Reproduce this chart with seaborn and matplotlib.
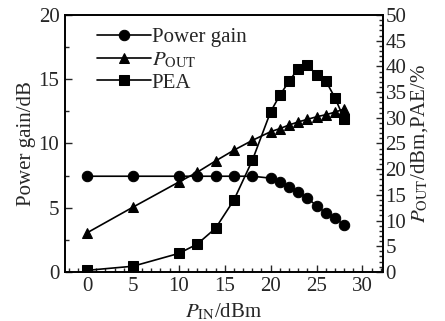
import matplotlib

matplotlib.use("Agg")
import matplotlib.pyplot as plt
import pandas as pd
import seaborn as sns
from matplotlib.ticker import MultipleLocator

# values
pin_dbm = [0, 5, 10, 12, 14, 16, 18, 20, 21, 22, 23, 24, 25, 26, 27, 28]
power_gain = [7.45, 7.45, 7.45, 7.45, 7.45, 7.45, 7.45, 7.3, 7.0, 6.65, 6.25,
              5.75, 5.15, 4.6, 4.2, 3.65]
pout = [7.6, 12.6, 17.5, 19.4, 21.6, 23.7, 25.6, 27.3, 27.9, 28.6, 29.2,
        29.7, 30.2, 30.6, 31.1, 31.7]
pea = [0.3, 1.1, 3.6, 5.4, 8.5, 14.0, 21.7, 31.2, 34.4, 37.1, 39.6, 40.3,
       38.3, 37.2, 33.9, 29.8]

sns.set_theme(style="ticks")
plt.rcParams["font.family"] = ["Liberation Serif", "DejaVu Serif"]
plt.rcParams["mathtext.fontset"] = "stix"
plt.rcParams["font.size"] = 15

df = pd.DataFrame({"pin": pin_dbm, "gain": power_gain, "pout": pout, "pea": pea})

fig = plt.figure(figsize=(4.45, 3.21), dpi=100)
ax = fig.add_axes([0.146, 0.153, 0.714, 0.800])
ax2 = ax.twinx()

line_kw = dict(color="black", lw=1.2, markeredgecolor="black", legend=False)
sns.lineplot(data=df, x="pin", y="gain", marker="o", markersize=7.5, ax=ax, **line_kw)
sns.lineplot(data=df, x="pin", y="pout", marker="^", markersize=7.5, ax=ax2, **line_kw)
sns.lineplot(data=df, x="pin", y="pea", marker="s", markersize=6.5, ax=ax2, **line_kw)

ax.set_xlim(-2.4, 32.2)
ax.set_ylim(0, 20)
ax2.set_ylim(0, 50)

ax.xaxis.set_major_locator(MultipleLocator(5))
ax.xaxis.set_minor_locator(MultipleLocator(1))
ax.yaxis.set_major_locator(MultipleLocator(5))
ax.yaxis.set_minor_locator(MultipleLocator(2.5))
ax2.yaxis.set_major_locator(MultipleLocator(5))
ax2.yaxis.set_minor_locator(MultipleLocator(1))

ax.tick_params(axis="both", which="both", direction="in", top=False, right=False,
               labelsize=15, pad=4, width=1.0)
ax.tick_params(which="major", length=5)
ax.tick_params(which="minor", length=3)
ax2.tick_params(axis="y", which="both", direction="in", labelsize=15, pad=2, width=1.0)
ax2.tick_params(which="major", length=5)
ax2.tick_params(which="minor", length=3)

for a in (ax, ax2):
    for s in a.spines.values():
        s.set_linewidth(1.2)
        s.set_color("black")

ax.set_xlabel("$P_{\\rm IN}$/dBm", fontsize=15, labelpad=3.5)
ax.set_ylabel("Power gain/dB", fontsize=15, labelpad=2)
ax2.set_ylabel("$P_{\\rm OUT}$/dBm,PAE/%", fontsize=15, labelpad=2)

handles = ax.get_lines()[:1] + ax2.get_lines()[:2]
ax2.legend(handles, ["Power gain", "$P_{\\rm OUT}$", "PEA"], loc="upper left",
           frameon=False, fontsize=15, handlelength=2.6, handletextpad=0.05,
           labelspacing=0.15, borderaxespad=0.2, bbox_to_anchor=(0.06, 1.0))

fig.savefig("out.png", dpi=100)
